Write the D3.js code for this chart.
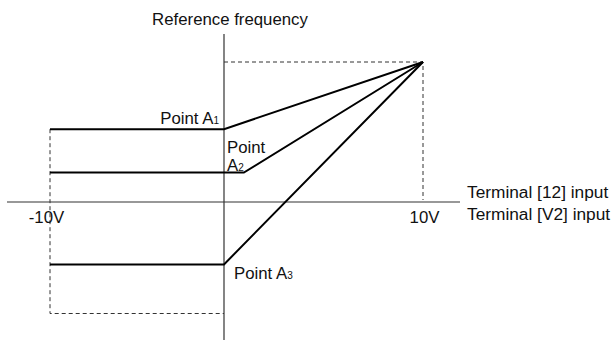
<!DOCTYPE html>
<html><head><meta charset="utf-8">
<script src="https://cdn.jsdelivr.net/npm/d3@7"></script>
<style>body{margin:0;background:#fff}svg{display:block}text{font-family:"Liberation Sans",Arial,sans-serif;fill:#111}</style>
</head><body><svg id="c" width="611" height="340"></svg>
<script>
// Data (volts, % of max reference frequency)
const seriesNames = ["A1", "A2", "A3"];
const seriesX = [[-10, 0, 10], [-10, 1, 10], [-10, 0, 10]];
const seriesY = [[52, 52, 100], [21, 21, 100], [-56, -56, 100]];
const tickValues = [-10, 10];
const tickLabels = ["-10V", "10V"];
const axisTitleY = "Reference frequency";
const axisTitleX = ["Terminal [12] input", "Terminal [V2] input"];

const FS = 16.8;
const svg = d3.select("#c");
const x = d3.scaleLinear().domain([-10, 0, 10]).range([50, 224, 423]);
const y = d3.scaleLinear().domain([-100, 0, 100]).range([313.5, 202, 62]);

// dashed guides
const dash = svg.append("g").attr("stroke", "#333").attr("stroke-width", 1).attr("stroke-dasharray", "4,3").attr("fill", "none");
dash.append("path").attr("d", d3.line()([[x(0), y(100)], [x(10), y(100)], [x(10), y(0) - 2]]));
dash.append("path").attr("d", d3.line()([[x(-10), y(52)], [x(-10), y(-100)], [x(0), y(-100)]]));

// axes
const xAxis = d3.axisBottom(x).tickValues(tickValues).tickSize(0).tickFormat((d, i) => tickLabels[i]);
const gx = svg.append("g").attr("transform", `translate(0,${y(0)})`).call(xAxis);
gx.select(".domain").remove();
gx.selectAll("text").attr("font-size", FS).attr("dy", "1.1em").style("font-family", "Liberation Sans, Arial, sans-serif").attr("fill", "#111");
gx.selectAll(".tick text").attr("dx", (d) => d < 0 ? -4 : 1);
svg.append("line").attr("x1", 7).attr("x2", 460).attr("y1", y(0)).attr("y2", y(0)).attr("stroke", "#333").attr("stroke-width", 1.2);
svg.append("line").attr("x1", x(0)).attr("x2", x(0)).attr("y1", 34).attr("y2", 340).attr("stroke", "#333").attr("stroke-width", 1.2);

// series lines
svg.append("g").selectAll("path").data(seriesNames).join("path")
  .attr("fill", "none").attr("stroke", "#000").attr("stroke-width", 2)
  .attr("d", (d, i) => d3.line().x(v => x(v[0])).y(v => y(v[1]))(seriesX[i].map((v, j) => [v, seriesY[i][j]])));

// texts
svg.append("text").attr("x", 230).attr("y", 25).attr("text-anchor", "middle").attr("font-size", FS).text(axisTitleY);
axisTitleX.forEach((t, i) => svg.append("text").attr("x", 467).attr("y", 198 + i * 22).attr("font-size", 17.3).text(t));

function pointLabel(parts, xx, yy, anchor) {
  const t = svg.append("text").attr("x", xx).attr("y", yy).attr("font-size", FS).attr("text-anchor", anchor || "start");
  t.append("tspan").text(parts[0]);
  t.append("tspan").attr("font-size", 10).text(parts[1]);
  return t;
}
pointLabel(["Point A", "1"], 219, 124, "end");
svg.append("text").attr("x", 227).attr("y", 153).attr("font-size", FS).text("Point");
pointLabel(["A", "2"], 227, 171);
pointLabel(["Point A", "3"], 234, 279);
</script></body></html>
